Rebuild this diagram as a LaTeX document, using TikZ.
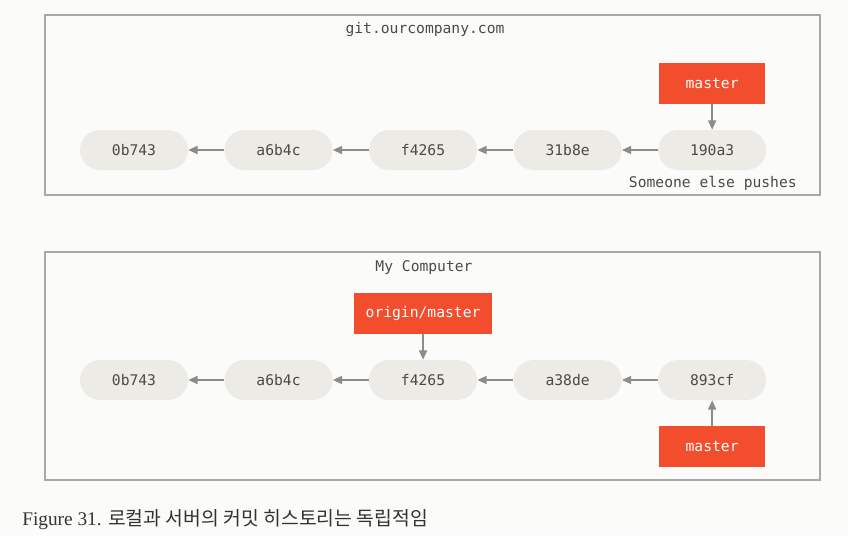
\documentclass[tikz,border=0pt]{standalone}
\usepackage{fontspec}
\setmainfont{Liberation Serif}
\setmonofont{DejaVu Sans Mono}
\newfontfamily\krfont{Noto Sans CJK KR}
\usetikzlibrary{arrows.meta,positioning}
\definecolor{pagebg}{HTML}{FBFBF9}
\definecolor{commitfill}{HTML}{ECEBE6}
\definecolor{commitink}{HTML}{4A4A48}
\definecolor{branchred}{HTML}{F24E2E}
\definecolor{framegray}{HTML}{A8A8A6}
\definecolor{arrowgray}{HTML}{8F8C87}

\begin{document}
\begin{tikzpicture}[
  x=0.75pt,y=-0.75pt,
  font=\ttfamily\fontsize{11}{13}\selectfont,
  commit/.style={rounded corners=15pt,fill=commitfill,text=commitink,minimum width=81pt,minimum height=30pt,inner sep=0pt},
  branch/.style={fill=branchred,text=white,minimum height=30.5pt,inner sep=0pt},
  frame/.style={draw=framegray,line width=1.4pt},
  label/.style={text=commitink,inner sep=0pt},
  arr/.style={-{Triangle[length=7pt,width=6pt]},draw=arrowgray,line width=1.3pt}
]
\fill[pagebg] (0,0) rectangle (848,536);
\useasboundingbox (0,0) rectangle (848,536);

% server
\draw[frame] (45,15) rectangle (820,195);
\node[label] (server) at (425,30) {git.ourcompany.com};
\node[commit] (s1) at (134,150) {0b743};
\node[commit,right=27pt of s1] (s2) {a6b4c};
\node[commit,right=27pt of s2] (s3) {f4265};
\node[commit,right=27pt of s3] (s4) {31b8e};
\node[commit,right=27pt of s4] (s5) {190a3};
\node[branch,minimum width=80pt,above=19pt of s5] (smaster) {master};
\node[label,anchor=east] (pushes) at (797,183) {Someone else pushes};
\draw[arr] (s2) -- (s1);
\draw[arr] (s3) -- (s2);
\draw[arr] (s4) -- (s3);
\draw[arr] (s5) -- (s4);
\draw[arr] (smaster) -- (s5);

% local
\draw[frame] (45,252) rectangle (820,480);
\node[label] (local) at (424,268) {My Computer};
\node[commit] (c1) at (134,380) {0b743};
\node[commit,right=27pt of c1] (c2) {a6b4c};
\node[commit,right=27pt of c2] (c3) {f4265};
\node[commit,right=27pt of c3] (c4) {a38de};
\node[commit,right=27pt of c4] (c5) {893cf};
\node[branch,minimum width=103pt,above=19pt of c3] (origin) {origin/master};
\node[branch,minimum width=80pt,below=19pt of c5] (cmaster) {master};
\draw[arr] (c2) -- (c1);
\draw[arr] (c3) -- (c2);
\draw[arr] (c4) -- (c3);
\draw[arr] (c5) -- (c4);
\draw[arr] (origin) -- (c3);
\draw[arr] (cmaster) -- (c5);

% caption
\node[anchor=west,inner sep=0pt,text=black!80,font=\rmfamily\fontsize{14.5}{16}\selectfont] (caption) at (22,520) {Figure 31. {\krfont 로컬과 서버의 커밋 히스토리는 독립적임}};
\end{tikzpicture}
\end{document}
